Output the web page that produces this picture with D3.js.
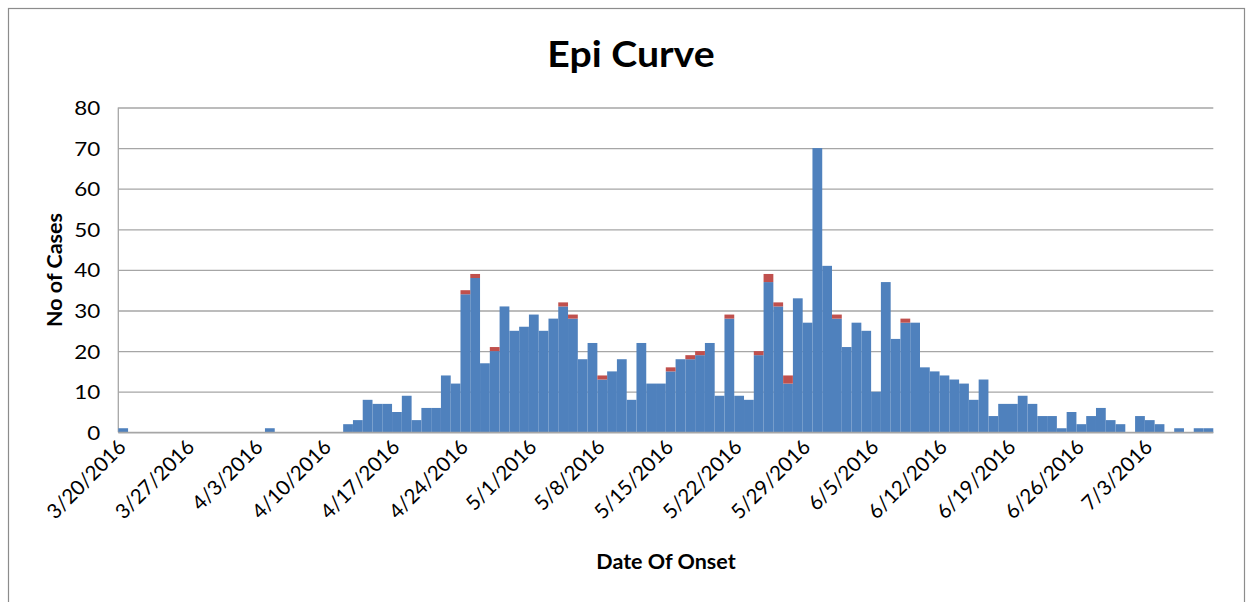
<!DOCTYPE html>
<html>
<head>
<meta charset="utf-8">
<script src="https://cdn.jsdelivr.net/npm/d3@7"></script>
<style>
  html, body { margin: 0; padding: 0; background: #fff; }
  svg { display: block; }
  text { font-family: Lato, "Open Sans", sans-serif; fill: #000; }
</style>
</head>
<body>
<svg id="chart" width="1250" height="602"></svg>
<script>
// ---------------- DATA ----------------
const startDate = "2016-03-20";   // first category (daily categories)
const dayCount = 112;            // 3/20/2016 .. 7/9/2016

// Blue series (cases per day of onset)
const casesBlue = [
  1, 0, 0, 0, 0, 0, 0, 0, 0, 0, 0, 0, 0, 0, 0, 1, 0, 0, 0, 0,
  0, 0, 0, 2, 3, 8, 7, 7, 5, 9, 3, 6, 6, 14, 12, 34, 38, 17, 20, 31,
  25, 26, 29, 25, 28, 31, 28, 18, 22, 13, 15, 18, 8, 22, 12, 12, 15, 18, 18, 19,
  22, 9, 28, 9, 8, 19, 37, 31, 12, 33, 27, 70, 41, 28, 21, 27, 25, 10, 37, 23,
  27, 27, 16, 15, 14, 13, 12, 8, 13, 4, 7, 7, 9, 7, 4, 4, 1, 5, 2, 4,
  6, 3, 2, 0, 4, 3, 2, 0, 1, 0, 1, 1
];
// Red series (stacked on top)
const casesRed = [
  0, 0, 0, 0, 0, 0, 0, 0, 0, 0, 0, 0, 0, 0, 0, 0, 0, 0, 0, 0,
  0, 0, 0, 0, 0, 0, 0, 0, 0, 0, 0, 0, 0, 0, 0, 1, 1, 0, 1, 0,
  0, 0, 0, 0, 0, 1, 1, 0, 0, 1, 0, 0, 0, 0, 0, 0, 1, 0, 1, 1,
  0, 0, 1, 0, 0, 1, 2, 1, 2, 0, 0, 0, 0, 1, 0, 0, 0, 0, 0, 0,
  1, 0, 0, 0, 0, 0, 0, 0, 0, 0, 0, 0, 0, 0, 0, 0, 0, 0, 0, 0,
  0, 0, 0, 0, 0, 0, 0, 0, 0, 0, 0, 0
];
const tickLabels = ["3/20/2016","3/27/2016","4/3/2016","4/10/2016","4/17/2016","4/24/2016",
  "5/1/2016","5/8/2016","5/15/2016","5/22/2016","5/29/2016","6/5/2016","6/12/2016",
  "6/19/2016","6/26/2016","7/3/2016"];
const yTicks = [0, 10, 20, 30, 40, 50, 60, 70, 80];
const seriesKeys = ["blue", "red"];
const seriesColors = ["#4F81BD", "#C0504D"];
const titleText = "Epi Curve";
const xTitle = "Date Of Onset";
const yTitle = "No of Cases";

// ---------------- BUILD ----------------
const fmt = d3.timeFormat("%-m/%-d/%Y");
const parse = d3.timeParse("%Y-%m-%d");
const d0 = parse(startDate);
const categories = d3.range(dayCount).map(i => fmt(d3.timeDay.offset(d0, i)));

const table = categories.map((c, i) => ({ date: c, blue: casesBlue[i], red: casesRed[i] }));
const stacked = d3.stack().keys(seriesKeys)(table);

const svg = d3.select("#chart");
const pLeft = 118.3, pRight = 1213.3, pTop = 107.5, pBottom = 432.3;

const x = d3.scaleBand().domain(categories).range([pLeft, pRight]).padding(0);
const y = d3.scaleLinear().domain([0, 80]).range([pBottom, pTop]);

// outer chart border
svg.append("rect").attr("x", 8.5).attr("y", 8.5).attr("width", 1236).attr("height", 640)
  .attr("fill", "#fff").attr("stroke", "#8c8c8c").attr("stroke-width", 1.2);

// gridlines + y tick labels
const yAxis = d3.axisLeft(y).tickValues(yTicks).tickSize(-(pRight - pLeft)).tickFormat(d => d);
const gy = svg.append("g").attr("transform", `translate(${pLeft},0)`).call(yAxis);
gy.select(".domain").remove();
gy.selectAll(".tick line").attr("stroke", "#a6a6a6").attr("stroke-width", 1.3);
gy.selectAll(".tick text").attr("font-size", 19.5).attr("font-family", "Lato").attr("fill", "#000")
  .attr("x", 0).attr("dy", "0.36em")
  .attr("transform", "translate(-18,0) scale(1.15,1)");

// left axis line
svg.append("line").attr("x1", pLeft).attr("x2", pLeft).attr("y1", pTop).attr("y2", pBottom)
  .attr("stroke", "#a6a6a6").attr("stroke-width", 1.3);

// bars
svg.append("g").selectAll("g").data(stacked).join("g")
  .attr("fill", (d, i) => seriesColors[i])
  .selectAll("rect").data(d => d).join("rect")
  .attr("x", d => x(d.data.date))
  .attr("width", x.bandwidth())
  .attr("y", d => y(d[1]))
  .attr("height", d => y(d[0]) - y(d[1]));

// baseline
svg.append("line").attr("x1", pLeft).attr("x2", pRight).attr("y1", pBottom).attr("y2", pBottom)
  .attr("stroke", "#a6a6a6").attr("stroke-width", 1.3);

// x axis labels
const tickSet = new Set(tickLabels);
const xAxis = d3.axisBottom(x).tickValues(categories.filter(c => tickSet.has(c))).tickSize(0).tickPadding(0);
const gx = svg.append("g").attr("transform", `translate(0,${pBottom})`).call(xAxis);
gx.select(".domain").remove();
gx.selectAll(".tick text")
  .attr("font-size", 20.5).attr("font-family", "Lato").attr("fill", "#000")
  .attr("text-anchor", "end")
  .attr("dy", null).attr("y", 0)
  .attr("transform", "translate(4,16) rotate(-45)");

// titles
svg.append("text").attr("transform", "translate(631,67) scale(1.06,1)").attr("text-anchor", "middle")
  .attr("font-size", 37).attr("font-weight", "bold").text(titleText);
svg.append("text").attr("x", 666).attr("y", 569).attr("text-anchor", "middle")
  .attr("font-size", 21.5).attr("font-weight", "bold").text(xTitle);
svg.append("text").attr("transform", "translate(62,270) rotate(-90)").attr("text-anchor", "middle")
  .attr("font-size", 21.5).attr("font-weight", "bold").text(yTitle);
</script>
</body>
</html>
